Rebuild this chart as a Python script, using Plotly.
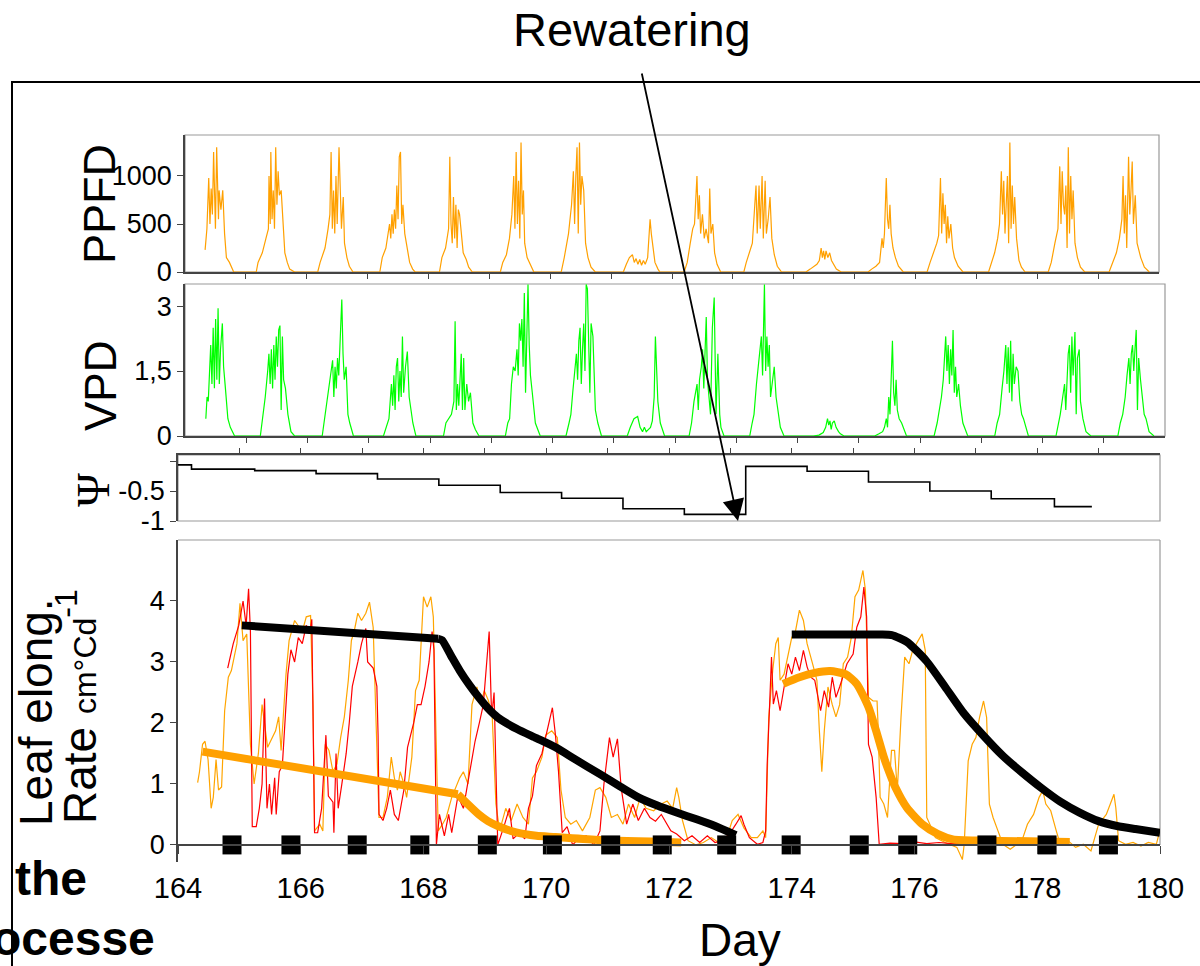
import plotly.graph_objects as go

# ---------------- data ----------------
day_ticks = [164, 166, 168, 170, 172, 174, 176, 178, 180]
day_tick_text = ["164", "166", "168", "170", "172", "174", "176", "178", "180"]
daily_ticks = [165, 166, 167, 168, 169, 170, 171, 172, 173, 174, 175, 176, 177, 178, 179]

ppfd_ticks = [0, 500, 1000]
vpd_ticks = [0, 1.5, 3]
vpd_tick_text = ["0", "1,5", "3"]
psi_ticks = [0, -0.5, -1]
psi_tick_text = [" ", "-0.5", "-1"]
ler_ticks = [0, 1, 2, 3, 4]

# PPFD (day, value)
ppfd_points = [
    (164.33, 230), (164.36, 450), (164.39, 980), (164.41, 500), (164.43, 870), (164.45, 600), (164.47, 1250),
    (164.50, 450), (164.52, 1300), (164.55, 550), (164.56, 850), (164.59, 650), (164.62, 850), (164.65, 400),
    (164.68, 150), (164.73, 100), (164.80, 0),
    (165.17, 0), (165.20, 100), (165.27, 200), (165.33, 350), (165.37, 450), (165.38, 1000), (165.40, 500),
    (165.41, 1250), (165.43, 550), (165.45, 850), (165.47, 450), (165.49, 1300), (165.51, 700), (165.53, 1050),
    (165.55, 800), (165.58, 850), (165.61, 450), (165.64, 200), (165.68, 100), (165.72, 30), (165.80, 0),
    (166.18, 0), (166.22, 100), (166.30, 250), (166.35, 450), (166.38, 600), (166.40, 1250), (166.42, 450),
    (166.44, 850), (166.46, 400), (166.48, 1000), (166.50, 500), (166.53, 1300), (166.55, 700), (166.57, 450),
    (166.60, 780), (166.62, 300), (166.66, 150), (166.70, 60), (166.76, 0),
    (167.20, 0), (167.24, 150), (167.30, 250), (167.36, 500), (167.38, 350), (167.40, 600), (167.42, 400),
    (167.44, 650), (167.46, 450), (167.48, 900), (167.50, 550), (167.52, 1200), (167.54, 1250), (167.56, 500),
    (167.58, 700), (167.61, 400), (167.65, 250), (167.69, 100), (167.74, 30), (167.78, 0),
    (168.18, 0), (168.22, 150), (168.28, 250), (168.33, 450), (168.35, 1200), (168.37, 500), (168.39, 300),
    (168.41, 780), (168.43, 350), (168.45, 700), (168.47, 250), (168.49, 650), (168.51, 600), (168.54, 400),
    (168.57, 200), (168.62, 130), (168.66, 50), (168.72, 0),
    (169.18, 0), (169.22, 100), (169.28, 180), (169.33, 350), (169.37, 600), (169.40, 1000), (169.42, 450),
    (169.44, 1250), (169.46, 500), (169.48, 950), (169.50, 350), (169.52, 1350), (169.54, 600), (169.56, 850),
    (169.58, 300), (169.62, 150), (169.67, 80), (169.73, 0),
    (170.18, 0), (170.23, 150), (170.30, 400), (170.35, 700), (170.38, 1050), (170.40, 500), (170.42, 1000),
    (170.44, 1300), (170.46, 400), (170.48, 1350), (170.50, 700), (170.52, 1000), (170.55, 850), (170.58, 300),
    (170.62, 150), (170.67, 50), (170.74, 0),
    (171.20, 0), (171.25, 80), (171.30, 150), (171.35, 180), (171.38, 100), (171.41, 140), (171.44, 80),
    (171.47, 130), (171.50, 70), (171.53, 120), (171.56, 80), (171.60, 150), (171.64, 550), (171.66, 400),
    (171.69, 250), (171.72, 100), (171.77, 30), (171.80, 0),
    (172.20, 0), (172.25, 100), (172.30, 300), (172.34, 450), (172.37, 500), (172.41, 1000), (172.43, 550),
    (172.45, 800), (172.47, 400), (172.50, 600), (172.53, 350), (172.56, 450), (172.60, 300), (172.62, 870),
    (172.64, 400), (172.67, 500), (172.70, 200), (172.74, 80), (172.80, 0),
    (173.18, 0), (173.22, 100), (173.27, 200), (173.32, 300), (173.36, 700), (173.38, 900), (173.40, 400),
    (173.43, 900), (173.45, 450), (173.48, 1000), (173.50, 350), (173.53, 950), (173.55, 400), (173.58, 550),
    (173.61, 780), (173.64, 350), (173.68, 180), (173.73, 60), (173.80, 0),
    (174.20, 0), (174.27, 30), (174.33, 60), (174.38, 80), (174.42, 120), (174.45, 250), (174.47, 150),
    (174.49, 220), (174.51, 130), (174.53, 220), (174.56, 150), (174.59, 200), (174.62, 120), (174.70, 30),
    (174.78, 0),
    (175.22, 0), (175.28, 30), (175.35, 60), (175.41, 100), (175.45, 350), (175.47, 250), (175.49, 400),
    (175.52, 980), (175.54, 550), (175.56, 450), (175.58, 700), (175.60, 400), (175.63, 250), (175.67, 150),
    (175.72, 60), (175.80, 0),
    (176.19, 0), (176.24, 100), (176.30, 200), (176.35, 300), (176.38, 380), (176.41, 980), (176.43, 400),
    (176.45, 820), (176.47, 500), (176.49, 700), (176.51, 300), (176.53, 580), (176.55, 350), (176.58, 500),
    (176.61, 250), (176.64, 150), (176.70, 60), (176.78, 0),
    (177.20, 0), (177.25, 100), (177.30, 200), (177.35, 350), (177.38, 500), (177.41, 1050), (177.43, 600),
    (177.45, 950), (177.47, 400), (177.49, 700), (177.51, 1000), (177.53, 300), (177.55, 1350), (177.57, 450),
    (177.59, 900), (177.61, 500), (177.63, 780), (177.66, 350), (177.70, 120), (177.74, 50), (177.80, 0),
    (178.18, 0), (178.23, 100), (178.29, 300), (178.34, 450), (178.37, 1100), (178.39, 500), (178.41, 1050),
    (178.43, 700), (178.45, 600), (178.47, 900), (178.49, 250), (178.51, 1300), (178.53, 400), (178.55, 1000),
    (178.57, 550), (178.59, 850), (178.62, 300), (178.66, 150), (178.71, 50), (178.78, 0),
    (179.18, 0), (179.24, 100), (179.30, 200), (179.35, 350), (179.39, 550), (179.41, 1000), (179.43, 400),
    (179.45, 800), (179.47, 250), (179.50, 1200), (179.52, 600), (179.54, 850), (179.56, 1150), (179.58, 500),
    (179.61, 800), (179.64, 300), (179.70, 150), (179.76, 50), (179.84, 0),
]

# VPD (day, value)
vpd_points = [
    (164.34, 0.4), (164.36, 0.9), (164.38, 0.8), (164.40, 1.4), (164.42, 2.1), (164.44, 1.2), (164.46, 2.5),
    (164.48, 1.1), (164.50, 2.7), (164.52, 1.3), (164.54, 2.95), (164.56, 1.2), (164.58, 2.0), (164.61, 2.6),
    (164.63, 1.6), (164.66, 1.1), (164.70, 0.4), (164.74, 0.2), (164.81, 0),
    (165.23, 0), (165.27, 0.4), (165.31, 0.9), (165.35, 1.5), (165.37, 1.9), (165.39, 1.2), (165.41, 2.0),
    (165.43, 1.1), (165.45, 2.1), (165.47, 1.3), (165.49, 2.3), (165.51, 1.6), (165.53, 2.45), (165.55, 2.55),
    (165.57, 0.6), (165.59, 2.3), (165.61, 1.3), (165.64, 1.1), (165.68, 0.5), (165.73, 0.1), (165.79, 0),
    (166.24, 0), (166.28, 0.4), (166.33, 1.0), (166.36, 1.3), (166.39, 1.5), (166.41, 1.75), (166.43, 0.9),
    (166.45, 1.6), (166.47, 1.1), (166.49, 1.8), (166.51, 1.4), (166.53, 2.3), (166.56, 3.15), (166.58, 1.9),
    (166.60, 1.3), (166.63, 1.6), (166.66, 0.5), (166.69, 0.3), (166.75, 0),
    (167.24, 0), (167.29, 0.2), (167.33, 0.4), (167.37, 1.2), (167.39, 0.7), (167.41, 1.4), (167.43, 0.6),
    (167.45, 1.6), (167.47, 1.8), (167.49, 0.8), (167.51, 1.5), (167.53, 0.9), (167.55, 2.3), (167.57, 1.0),
    (167.60, 1.6), (167.63, 1.95), (167.66, 0.9), (167.69, 0.6), (167.72, 0.3), (167.77, 0),
    (168.22, 0), (168.26, 0.3), (168.31, 0.4), (168.35, 0.5), (168.39, 0.8), (168.41, 2.65), (168.43, 0.6),
    (168.45, 1.2), (168.47, 0.7), (168.49, 1.5), (168.51, 1.9), (168.53, 0.6), (168.55, 1.8), (168.57, 0.6),
    (168.60, 1.2), (168.63, 0.8), (168.66, 1.0), (168.70, 0.3), (168.74, 0.15), (168.80, 0),
    (169.23, 0), (169.27, 0.3), (169.30, 0.4), (169.33, 1.2), (169.36, 1.6), (169.39, 1.5), (169.42, 2.0),
    (169.44, 1.4), (169.46, 2.6), (169.48, 2.2), (169.50, 2.7), (169.52, 1.6), (169.54, 3.3), (169.56, 1.0),
    (169.58, 2.6), (169.60, 3.5), (169.62, 2.1), (169.64, 1.4), (169.67, 1.0), (169.72, 0.3), (169.80, 0),
    (170.22, 0), (170.27, 0.3), (170.30, 0.5), (170.33, 1.0), (170.36, 1.5), (170.39, 1.9), (170.41, 1.3),
    (170.43, 2.2), (170.45, 2.5), (170.47, 1.2), (170.49, 2.0), (170.51, 2.6), (170.53, 1.5), (170.55, 3.5),
    (170.57, 3.4), (170.59, 2.0), (170.61, 1.0), (170.63, 2.6), (170.66, 2.3), (170.70, 0.6), (170.74, 0.3),
    (170.80, 0),
    (171.22, 0), (171.27, 0.2), (171.33, 0.4), (171.39, 0.45), (171.43, 0.2), (171.47, 0.1), (171.50, 0.2),
    (171.53, 0.1), (171.56, 0.15), (171.60, 0.2), (171.63, 0.35), (171.66, 0.9), (171.68, 2.3), (171.70, 1.5),
    (171.72, 0.8), (171.76, 0.3), (171.83, 0),
    (172.23, 0), (172.27, 0.3), (172.31, 0.8), (172.36, 1.2), (172.38, 0.6), (172.40, 1.3), (172.43, 1.6),
    (172.45, 2.0), (172.47, 1.1), (172.51, 2.75), (172.53, 1.3), (172.55, 0.9), (172.58, 0.5), (172.61, 2.5),
    (172.64, 3.2), (172.67, 0.5), (172.70, 1.9), (172.73, 0.5), (172.75, 0.2), (172.80, 0),
    (173.22, 0), (173.26, 0.3), (173.29, 0.5), (173.33, 1.2), (173.36, 1.6), (173.39, 2.0), (173.41, 2.3),
    (173.43, 1.4), (173.45, 2.9), (173.46, 3.5), (173.48, 1.5), (173.50, 2.3), (173.52, 1.6), (173.54, 2.1),
    (173.56, 0.9), (173.59, 1.3), (173.62, 1.6), (173.65, 0.9), (173.68, 0.6), (173.72, 0.2), (173.78, 0),
    (174.26, 0), (174.35, 0.02), (174.42, 0.08), (174.46, 0.2), (174.49, 0.4), (174.51, 0.25), (174.53, 0.35),
    (174.55, 0.15), (174.57, 0.3), (174.60, 0.35), (174.63, 0.2), (174.67, 0.1), (174.70, 0.05), (174.76, 0),
    (175.26, 0), (175.33, 0.05), (175.39, 0.1), (175.42, 0.2), (175.45, 0.4), (175.47, 0.2), (175.49, 0.9),
    (175.51, 0.5), (175.53, 1.2), (175.55, 2.2), (175.57, 1.0), (175.59, 0.7), (175.61, 1.3), (175.63, 0.6),
    (175.66, 0.4), (175.70, 0.3), (175.78, 0),
    (176.23, 0), (176.28, 0.3), (176.32, 0.6), (176.35, 0.9), (176.38, 1.3), (176.40, 1.9), (176.42, 2.3),
    (176.44, 1.5), (176.46, 2.1), (176.48, 1.2), (176.50, 2.0), (176.52, 1.4), (176.54, 2.45), (176.56, 1.0),
    (176.58, 1.6), (176.60, 0.9), (176.63, 1.2), (176.66, 0.7), (176.70, 0.3), (176.78, 0),
    (177.22, 0), (177.26, 0.3), (177.30, 0.5), (177.34, 1.1), (177.37, 1.5), (177.40, 2.1), (177.42, 1.2),
    (177.44, 2.05), (177.46, 1.0), (177.48, 2.2), (177.50, 0.8), (177.52, 1.9), (177.54, 1.2), (177.57, 1.6),
    (177.60, 1.5), (177.63, 0.8), (177.66, 0.5), (177.69, 0.4), (177.77, 0),
    (178.22, 0), (178.26, 0.3), (178.29, 0.5), (178.33, 0.9), (178.36, 1.2), (178.38, 0.6), (178.40, 1.5),
    (178.42, 1.9), (178.44, 2.1), (178.46, 1.0), (178.48, 2.3), (178.50, 1.4), (178.53, 2.4), (178.55, 0.5),
    (178.57, 1.8), (178.60, 2.0), (178.62, 0.8), (178.66, 0.4), (178.71, 0.1), (178.79, 0),
    (179.23, 0), (179.27, 0.3), (179.31, 0.5), (179.35, 0.9), (179.38, 1.4), (179.41, 1.8), (179.43, 1.2),
    (179.45, 1.9), (179.47, 2.1), (179.49, 1.5), (179.51, 2.0), (179.53, 2.45), (179.55, 0.6), (179.57, 1.8),
    (179.60, 1.3), (179.63, 0.8), (179.66, 0.5), (179.69, 0.4), (179.74, 0.1), (179.82, 0),
]

# Leaf water potential, step levels (day where level starts, level)
psi_day = [164.0, 164.22, 165.25, 166.25, 167.25, 168.25, 169.25, 170.25, 171.25, 172.25, 173.25,
           174.25, 175.25, 176.25, 177.25, 178.28, 178.89]
psi_val = [-0.065, -0.135, -0.16, -0.21, -0.30, -0.405, -0.525, -0.62, -0.795, -0.89, -0.09,
           -0.17, -0.35, -0.50, -0.63, -0.76, -0.76]

# Leaf elongation rate, plant 1 (orange, thin)
ler_orange_points = [
    (164.32, 1.02), (164.35, 1.2), (164.40, 1.65), (164.44, 1.7), (164.49, 1.4), (164.54, 0.6), (164.575, 0.78),
    (164.62, 1.4), (164.66, 0.9), (164.71, 0.95), (164.76, 2.2), (164.82, 2.75), (164.87, 2.86), (164.91, 3.08),
    (164.96, 3.3), (165.01, 3.96), (165.06, 3.35), (165.12, 3.46), (165.18, 1.65), (165.24, 1.0), (165.31, 1.5),
    (165.37, 2.3), (165.46, 1.6), (165.59, 1.87), (165.64, 2.1), (165.68, 1.55), (165.725, 2.3), (165.76, 2.8),
    (165.81, 3.35), (165.90, 3.68), (166.025, 3.5), (166.09, 3.74), (166.16, 3.76), (166.20, 2.3), (166.225, 0.23),
    (166.31, 0.34), (166.36, 0.23), (166.40, 1.65), (166.46, 1.55), (166.525, 1.2), (166.59, 1.33), (166.65, 1.76),
    (166.71, 2.1), (166.775, 2.7), (166.825, 3.35), (166.87, 3.5), (166.93, 3.8), (166.99, 3.68), (167.06, 3.8),
    (167.12, 3.98), (167.18, 3.57), (167.24, 1.33), (167.275, 0.45), (167.34, 0.45), (167.41, 0.78),
    (167.475, 1.44), (167.525, 1.1), (167.575, 0.9), (167.62, 1.2), (167.68, 1.0), (167.725, 0.78), (167.81, 1.44),
    (167.87, 2.53), (167.93, 2.7), (168.00, 4.07), (168.06, 3.9), (168.12, 4.07), (168.16, 3.74), (168.20, 1.87),
    (168.24, 0.23), (168.31, 0.34), (168.37, 0.45), (168.46, 0.78), (168.525, 0.94), (168.59, 1.1), (168.65, 1.2),
    (168.725, 1.0), (168.79, 2.3), (168.87, 2.59), (168.93, 2.3), (168.99, 2.53), (169.06, 2.36), (169.12, 2.1),
    (169.18, 0.67), (169.24, 0.23), (169.34, 0.6), (169.43, 0.4), (169.525, 0.67), (169.62, 0.45), (169.71, 0.34),
    (169.775, 1.1), (169.84, 1.2), (169.93, 1.44), (169.99, 1.8), (170.09, 1.87), (170.18, 1.76), (170.24, 0.9),
    (170.31, 0.45), (170.40, 0.34), (170.49, 0.4), (170.59, 0.23), (170.71, 0.45), (170.80, 0.9), (170.875, 0.94),
    (170.97, 0.78), (171.06, 0.45), (171.16, 0.5), (171.25, 0.34), (171.34, 0.67), (171.44, 0.45), (171.53, 0.78),
    (171.625, 0.6), (171.75, 0.56), (171.875, 0.67), (171.97, 0.72), (172.06, 0.6), (172.125, 0.94), (172.16, 0.78),
    (172.22, 0.4), (172.31, 0.07), (172.44, 0.0), (172.56, 0.04), (172.69, 0.12), (172.81, 0.04), (172.94, 0.12),
    (173.03, 0.4), (173.125, 0.5), (173.22, 0.28), (173.34, 0.12), (173.44, 0.12), (173.53, 0.23), (173.575, 0.12),
    (173.625, 2.09), (173.69, 2.86), (173.74, 3.3), (173.78, 3.4), (173.81, 2.7), (173.875, 2.8), (173.94, 3.13),
    (174.00, 3.4), (174.06, 3.5), (174.125, 3.85), (174.19, 3.68), (174.25, 3.3), (174.34, 2.97), (174.41, 2.7),
    (174.45, 1.87), (174.49, 1.2), (174.53, 1.87), (174.59, 2.59), (174.66, 2.3), (174.72, 2.1), (174.78, 2.3),
    (174.84, 2.97), (174.91, 3.08), (174.97, 3.4), (175.03, 4.07), (175.09, 4.18), (175.16, 4.5), (175.20, 4.18),
    (175.25, 2.42), (175.325, 2.36), (175.39, 2.36), (175.41, 1.87), (175.44, 0.78), (175.50, 0.67), (175.56, 0.45),
    (175.625, 1.55), (175.675, 1.55), (175.72, 0.89), (175.78, 2.09), (175.84, 3.08), (175.91, 2.97), (175.97, 3.19),
    (176.06, 3.35), (176.125, 3.46), (176.175, 3.19), (176.20, 0.45), (176.25, 0.34), (176.34, 0.12), (176.50, 0.04),
    (176.69, -0.04), (176.78, -0.24), (176.81, 0.01), (176.875, 1.38), (176.94, 1.65), (177.00, 1.76),
    (177.06, 2.09), (177.125, 2.36), (177.175, 2.09), (177.22, 0.67), (177.28, 0.45), (177.36, 0.23), (177.44, 0.01),
    (177.56, -0.07), (177.66, 0.01), (177.75, 0.07), (177.84, 0.34), (177.94, 0.5), (178.03, 0.78), (178.09, 0.89),
    (178.14, 0.67), (178.22, 0.56), (178.31, 0.23), (178.375, 0.01), (178.50, 0.07), (178.625, -0.04),
    (178.75, 0.01), (178.875, -0.1), (179.00, 0.34), (179.125, 0.5), (179.19, 0.67), (179.25, 0.83), (179.28, 0.61),
    (179.325, 0.07), (179.44, 0.01), (179.56, 0.04), (179.69, -0.02), (179.81, 0.04), (179.94, 0.01), (180.01, 0.28),
]

# Leaf elongation rate, plant 2 (red, thin)
ler_red_points = [
    (164.81, 2.9), (164.90, 3.3), (164.99, 3.6), (165.06, 4.0), (165.11, 3.6), (165.15, 4.2), (165.18, 3.5),
    (165.21, 0.3), (165.275, 0.3), (165.325, 0.6), (165.37, 1.0), (165.41, 2.4), (165.45, 0.6), (165.49, 1.0),
    (165.525, 0.5), (165.575, 1.1), (165.60, 0.5), (165.65, 1.2), (165.70, 1.3), (165.74, 2.0), (165.79, 2.8),
    (165.84, 3.2), (165.90, 3.0), (165.96, 3.4), (166.025, 3.3), (166.09, 3.6), (166.15, 3.5), (166.18, 3.7),
    (166.225, 0.2), (166.275, 0.2), (166.34, 0.6), (166.41, 1.8), (166.45, 0.8), (166.525, 0.7), (166.54, 0.2),
    (166.575, 1.5), (166.61, 0.6), (166.67, 1.0), (166.74, 1.5), (166.79, 2.0), (166.84, 2.6), (166.93, 3.0),
    (166.99, 3.3), (167.06, 3.55), (167.09, 3.0), (167.18, 2.9), (167.24, 2.6), (167.26, 1.8), (167.275, 0.5),
    (167.34, 0.4), (167.40, 0.6), (167.46, 0.9), (167.525, 0.5), (167.59, 0.4), (167.68, 0.9), (167.74, 1.6),
    (167.84, 2.0), (167.90, 2.3), (167.96, 2.3), (168.025, 2.6), (168.09, 3.0), (168.14, 3.5), (168.17, 3.2),
    (168.21, 0.0), (168.26, 0.5), (168.34, 0.15), (168.41, 0.5), (168.46, 0.2), (168.56, 0.8), (168.65, 0.6),
    (168.74, 1.1), (168.84, 1.7), (168.91, 2.0), (168.975, 2.3), (169.07, 3.5), (169.11, 2.1), (169.15, 2.5),
    (169.21, 0.0), (169.31, 0.3), (169.40, 0.6), (169.46, 0.1), (169.56, 0.2), (169.65, 0.1), (169.71, 0.6),
    (169.775, 0.8), (169.84, 1.3), (169.93, 1.5), (170.025, 1.9), (170.10, 2.25), (170.15, 1.8), (170.20, 1.2),
    (170.26, 0.2), (170.34, 0.3), (170.43, 0.0), (170.525, 0.1), (170.65, 0.15), (170.775, 0.0), (170.875, 0.23),
    (170.94, 1.0), (171.03, 1.76), (171.09, 1.44), (171.16, 1.74), (171.22, 0.94), (171.31, 0.34), (171.41, 0.67),
    (171.50, 0.4), (171.60, 0.6), (171.69, 0.45), (171.78, 0.39), (171.875, 0.5), (171.97, 0.34), (172.03, 0.23),
    (172.125, 0.18), (172.25, 0.07), (172.375, 0.15), (172.50, 0.04), (172.625, 0.15), (172.75, 0.04),
    (172.875, 0.07), (173.00, 0.2), (173.09, 0.34), (173.175, 0.48), (173.22, 0.34), (173.31, 0.12), (173.44, 0.01),
    (173.53, 0.04), (173.575, 0.23), (173.60, 1.33), (173.64, 2.31), (173.67, 3.08), (173.70, 2.31), (173.75, 2.53),
    (173.81, 2.2), (173.875, 2.59), (173.94, 2.97), (174.00, 2.8), (174.06, 3.08), (174.125, 2.86), (174.19, 3.19),
    (174.25, 2.92), (174.31, 2.75), (174.375, 2.7), (174.47, 2.2), (174.53, 2.53), (174.60, 2.26), (174.66, 2.75),
    (174.72, 2.42), (174.78, 2.59), (174.84, 2.8), (174.90, 2.97), (175.00, 3.13), (175.06, 3.57), (175.125, 3.74),
    (175.175, 4.23), (175.22, 3.74), (175.25, 1.65), (175.31, 1.44), (175.375, 0.78), (175.425, 0.01),
    (175.60, 0.03), (175.80, 0.02), (176.00, 0.05), (176.20, 0.02), (176.40, 0.04), (176.60, 0.02), (176.80, 0.03),
    (177.00, 0.02), (177.30, 0.03), (177.60, 0.02), (178.00, 0.02), (178.50, 0.02),
]

# Fitted (thick) curves: straight parts and curved parts
black_fit_1_flat = [(165.04, 3.6), (168.24, 3.38)]
black_fit_1_curve = [(168.24, 3.38), (168.30, 3.36), (168.45, 3.1), (168.59, 2.86), (168.75, 2.62),
                     (168.90, 2.42), (169.05, 2.24), (169.21, 2.09), (169.525, 1.9), (169.84, 1.75), (170.15, 1.6),
                     (170.46, 1.41), (170.875, 1.16), (171.20, 0.96), (171.50, 0.78), (171.80, 0.65),
                     (172.125, 0.53), (172.45, 0.42), (172.75, 0.31), (173.09, 0.16)]
black_fit_2 = [(174.00, 3.45), (175.44, 3.45), (175.63, 3.44), (175.875, 3.33), (176.19, 3.02), (176.50, 2.59),
               (176.81, 2.15), (177.125, 1.79), (177.44, 1.46), (177.75, 1.19), (178.06, 0.94), (178.375, 0.71),
               (178.69, 0.53), (179.00, 0.39), (179.30, 0.31), (179.60, 0.26), (180.00, 0.2)]
orange_fit_1_flat = [(164.40, 1.53), (168.56, 0.83)]
orange_fit_1_curve = [(168.56, 0.83), (168.73, 0.66), (168.90, 0.5), (169.05, 0.39), (169.21, 0.31),
                      (169.525, 0.2), (169.84, 0.15), (170.15, 0.13), (170.875, 0.08), (172.20, 0.04)]
orange_fit_2 = [(173.86, 2.64), (174.125, 2.75), (174.375, 2.82), (174.625, 2.85), (174.875, 2.8), (175.06, 2.64),
                (175.25, 2.26), (175.375, 1.87), (175.50, 1.44), (175.60, 1.16), (175.69, 0.94), (175.875, 0.61),
                (176.125, 0.34), (176.375, 0.18), (176.625, 0.09), (177.125, 0.07), (178.53, 0.05)]

# Black square markers on the zero line
square_days = [164.88, 165.84, 166.92, 167.94, 169.04, 170.10, 171.05, 171.89, 172.94, 173.99,
               175.10, 175.89, 177.18, 178.16, 179.16]
square_vals = [0] * len(square_days)

# ---------------- figure ----------------
W, H = 1200, 966
FONT = "Liberation Sans, Arial, sans-serif"


def fx(p):
    return p / W


def fy(p):
    return 1 - p / H


def xy(points):
    return [p[0] for p in points], [p[1] for p in points]


fig = go.Figure()

t, v = xy(ppfd_points)
fig.add_trace(go.Scatter(x=t, y=v, mode="lines", line=dict(color="#FFA000", width=1.2),
                         xaxis="x", yaxis="y", hoverinfo="skip"))
t, v = xy(vpd_points)
fig.add_trace(go.Scatter(x=t, y=v, mode="lines", line=dict(color="#00FF00", width=1.2),
                         xaxis="x2", yaxis="y2", hoverinfo="skip"))
fig.add_trace(go.Scatter(x=psi_day, y=psi_val, mode="lines", line=dict(color="black", width=1.6, shape="hv"),
                         xaxis="x3", yaxis="y3", hoverinfo="skip"))

t, v = xy(ler_orange_points)
fig.add_trace(go.Scatter(x=t, y=v, mode="lines", line=dict(color="#FFA500", width=1.2),
                         xaxis="x4", yaxis="y4", hoverinfo="skip"))
t, v = xy(ler_red_points)
fig.add_trace(go.Scatter(x=t, y=v, mode="lines", line=dict(color="#FF0000", width=1.2),
                         xaxis="x4", yaxis="y4", hoverinfo="skip"))
for pts, col, shp in [(orange_fit_1_flat, "#FFA000", "linear"), (orange_fit_1_curve, "#FFA000", "spline"),
                      (orange_fit_2, "#FFA000", "spline"),
                      (black_fit_1_flat, "black", "linear"), (black_fit_1_curve, "black", "spline"),
                      (black_fit_2, "black", "spline")]:
    t, v = xy(pts)
    fig.add_trace(go.Scatter(x=t, y=v, mode="lines", line=dict(color=col, width=8, shape=shp, smoothing=0.6),
                             xaxis="x4", yaxis="y4", hoverinfo="skip"))
fig.add_trace(go.Scatter(x=square_days, y=square_vals, mode="markers",
                         marker=dict(symbol="square", size=19, color="black"),
                         xaxis="x4", yaxis="y4", cliponaxis=False, hoverinfo="skip"))

AX = "#444444"
tickfont = dict(family=FONT, size=27, color="black")
common_x = dict(range=[164, 180], showgrid=False, zeroline=False, showline=True,
                linecolor=AX, linewidth=1.5, ticks="outside", tickcolor=AX, tickwidth=1.2)
common_y = dict(showgrid=False, zeroline=False, showline=True, linecolor=AX, linewidth=1.5,
                ticks="outside", tickcolor=AX, tickwidth=1.2, ticklen=6, tickfont=tickfont)

# panel pixel boxes
P1 = (185, 1159, 135, 272)   # PPFD: x0, x1, ytop, ybottom
P2 = (185, 1165, 284, 436)   # VPD
P3 = (178, 1160, 455, 521)   # Psi
P4 = (178, 1160, 540, 862)   # leaf elongation
ler_range = [-0.28, 5.0]
zero_pos = fy(P4[3]) + (0 - ler_range[0]) / (ler_range[1] - ler_range[0]) * (fy(P4[2]) - fy(P4[3]))

fig.update_layout(
    width=W, height=H, margin=dict(l=0, r=0, t=0, b=0, pad=0, autoexpand=False),
    paper_bgcolor="white", plot_bgcolor="rgba(0,0,0,0)", showlegend=False,
    font=dict(family=FONT, color="black"),
    xaxis=dict(domain=[fx(P1[0]), fx(P1[1])], anchor="y", showticklabels=False,
               tickvals=daily_ticks, ticklen=5, **common_x),
    yaxis=dict(domain=[fy(P1[3]), fy(P1[2])], anchor="x", range=[0, 1427], tickvals=ppfd_ticks, **common_y),
    xaxis2=dict(domain=[fx(P2[0]), fx(P2[1])], anchor="y2", showticklabels=False,
                tickvals=daily_ticks, ticklen=5, **common_x),
    yaxis2=dict(domain=[fy(P2[3]), fy(P2[2])], anchor="x2", range=[0, 3.51], tickvals=vpd_ticks,
                ticktext=vpd_tick_text, **common_y),
    xaxis3=dict(domain=[fx(P3[0]), fx(P3[1])], anchor="y3", side="top", showticklabels=False,
                tickvals=daily_ticks, ticklen=5, **common_x),
    yaxis3=dict(domain=[fy(P3[3]), fy(P3[2])], anchor="x3", range=[-1, 0.1], tickvals=psi_ticks,
                ticktext=psi_tick_text, **common_y),
    xaxis4=dict(domain=[fx(P4[0]), fx(P4[1])], anchor="free", position=zero_pos,
                tickvals=day_ticks, ticktext=day_tick_text, ticklen=8, ticklabelstandoff=10,
                tickfont=dict(family=FONT, size=29, color="black"), **common_x),
    yaxis4=dict(domain=[fy(P4[3]), fy(P4[2])], anchor="x4", range=ler_range, tickvals=ler_ticks, **common_y),
)

shapes = []
for (x0, x1, yt, yb) in [P1, P2, P3]:
    shapes.append(dict(type="rect", xref="paper", yref="paper", x0=fx(x0), x1=fx(x1), y0=fy(yb), y1=fy(yt),
                       line=dict(color="#999999", width=1.2), layer="below"))
shapes.append(dict(type="line", xref="paper", yref="paper", x0=fx(P4[0]), x1=fx(P4[1]), y0=fy(P4[2]), y1=fy(P4[2]),
                   line=dict(color="#999999", width=1.2), layer="below"))
shapes.append(dict(type="line", xref="paper", yref="paper", x0=fx(P4[1]), x1=fx(P4[1]), y0=zero_pos, y1=fy(P4[2]),
                   line=dict(color="#999999", width=1.2), layer="below"))
# outer frame of the slide
shapes.append(dict(type="rect", xref="paper", yref="paper", x0=fx(12), x1=1.05, y0=-0.05, y1=fy(82),
                   line=dict(color="black", width=2), layer="below"))
fig.update_layout(shapes=shapes)

ann = []
ann.append(dict(text="Rewatering", x=fx(632), y=fy(30), xref="paper", yref="paper", showarrow=False,
                font=dict(family=FONT, size=47, color="black"), xanchor="center", yanchor="middle"))
ann.append(dict(text=" ", x=fx(738), y=fy(521), xref="paper", yref="paper", showarrow=True,
                ax=640 - 738, ay=65 - 521, axref="pixel", ayref="pixel",
                arrowhead=2, arrowsize=2.4, arrowwidth=1.8, arrowcolor="black", standoff=0))
ann.append(dict(text="PPFD", x=fx(100), y=fy(204), xref="paper", yref="paper", showarrow=False, textangle=-90,
                font=dict(family=FONT, size=45, color="black"), xanchor="center", yanchor="middle"))
ann.append(dict(text="VPD", x=fx(100), y=fy(386), xref="paper", yref="paper", showarrow=False, textangle=-90,
                font=dict(family=FONT, size=44, color="black"), xanchor="center", yanchor="middle"))
ann.append(dict(text="Ψ", x=fx(93), y=fy(490), xref="paper", yref="paper", showarrow=False, textangle=-90,
                font=dict(family="Liberation Serif, Times New Roman, serif", size=46, color="black"),
                xanchor="center", yanchor="middle"))
ann.append(dict(text="Leaf elong.", x=fx(36), y=fy(712), xref="paper", yref="paper", showarrow=False,
                textangle=-90, font=dict(family=FONT, size=46, color="black"), xanchor="center", yanchor="middle"))
ann.append(dict(text="Rate <span style='font-size:32px'>cm°Cd</span><sup>-1</sup>", x=fx(77), y=fy(707),
                xref="paper", yref="paper", showarrow=False, textangle=-90,
                font=dict(family=FONT, size=46, color="black"), xanchor="center", yanchor="middle"))
ann.append(dict(text="Day", x=fx(740), y=fy(940), xref="paper", yref="paper", showarrow=False,
                font=dict(family=FONT, size=46, color="black"), xanchor="center", yanchor="middle"))
ann.append(dict(text="<b>the</b>", x=fx(14), y=fy(878), xref="paper", yref="paper", showarrow=False,
                font=dict(family=FONT, size=48, color="black"), xanchor="left", yanchor="middle", borderpad=0))
ann.append(dict(text="<b>ocesse</b>", x=fx(-9), y=fy(938), xref="paper", yref="paper", showarrow=False,
                font=dict(family=FONT, size=48, color="black"), xanchor="left", yanchor="middle", borderpad=0))
fig.update_layout(annotations=ann)

fig.write_html("out.html", config={"displayModeBar": False},
               post_script="document.body.style.margin='0';document.body.style.overflow='hidden';")
